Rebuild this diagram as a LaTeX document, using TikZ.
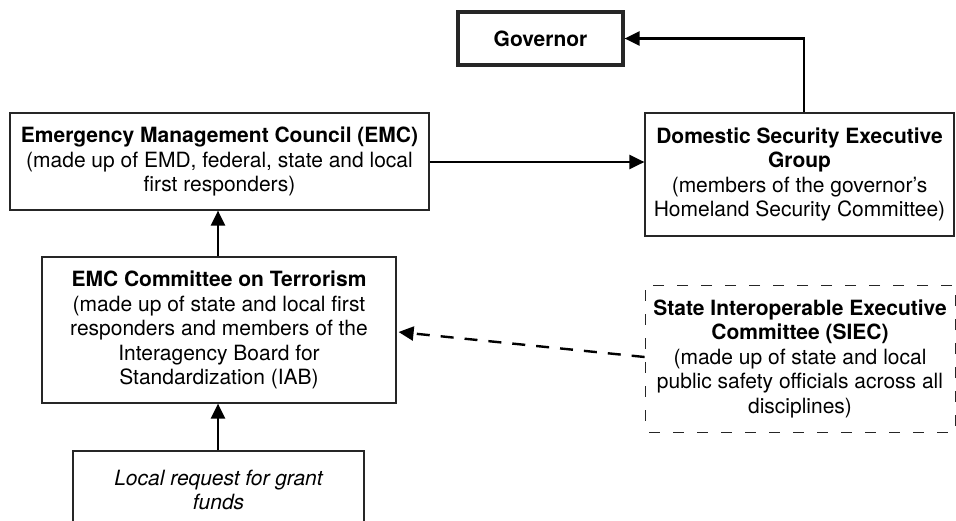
\documentclass[tikz,border=0pt]{standalone}
\usepackage{fontspec}
\setmainfont{TeX Gyre Heros}
\usetikzlibrary{arrows.meta}
\begin{document}
\begin{tikzpicture}[x=1pt,y=-1pt,
  box/.style={draw=black!85,line width=1.2pt,align=center,inner sep=0pt,font=\fontsize{21}{24.5}\selectfont},
  dbox/.style={box,dash pattern=on 11pt off 13pt,dash phase=-4pt,line width=0.8pt},
  conn/.style={line width=2.4pt,-{Triangle[length=15pt,width=14pt]}},
  dconn/.style={conn,dash pattern=on 13pt off 11pt}]
\useasboundingbox (0,0) rectangle (956,520);
\node[box,line width=3.2pt,minimum width=165pt,minimum height=53pt] (gov) at (540.5,38.5) {\textbf{Governor}};
\node[box,minimum width=419pt,minimum height=97pt] (emc) at (219.5,161.5)
 {\textbf{Emergency Management Council (EMC)}\\(made up of EMD, federal, state and local\\first responders)};
\node[box,minimum width=309pt,minimum height=123pt] (dseg) at (799.5,174.5)
 {\textbf{Domestic Security Executive}\\\textbf{Group}\\(members of the governor’s\\Homeland Security Committee)};
\node[box,minimum width=354pt,minimum height=146pt] (cot) at (219,330)
 {\textbf{EMC Committee on Terrorism}\\(made up of state and local first\\responders and members of the\\Interagency Board for\\Standardization (IAB)};
\node[box,minimum width=291pt,minimum height=78pt] (loc) at (218.5,490)
 {\itshape Local request for grant\\\itshape funds};
\node[dbox,minimum width=310pt,minimum height=147pt] (siec) at (800,358.5)
 {\textbf{State Interoperable Executive}\\\textbf{Committee (SIEC)}\\(made up of state and local\\public safety officials across all\\disciplines)};
\coordinate (gc) at (804,38.5);
\draw[conn] (dseg.north -| gc) -- (gc) -- (gov.east);
\draw[conn] (emc.east |- 0,162) -- (dseg.west |- 0,162);
\draw[conn] (cot.north -| 218,0) -- (emc.south -| 218,0);
\draw[conn] (loc.north -| 218,0) -- (cot.south -| 218,0);
\draw[dconn] (siec.west |- 0,357) -- ([xshift=2pt]cot.east |- 0,332);
\end{tikzpicture}
\end{document}
